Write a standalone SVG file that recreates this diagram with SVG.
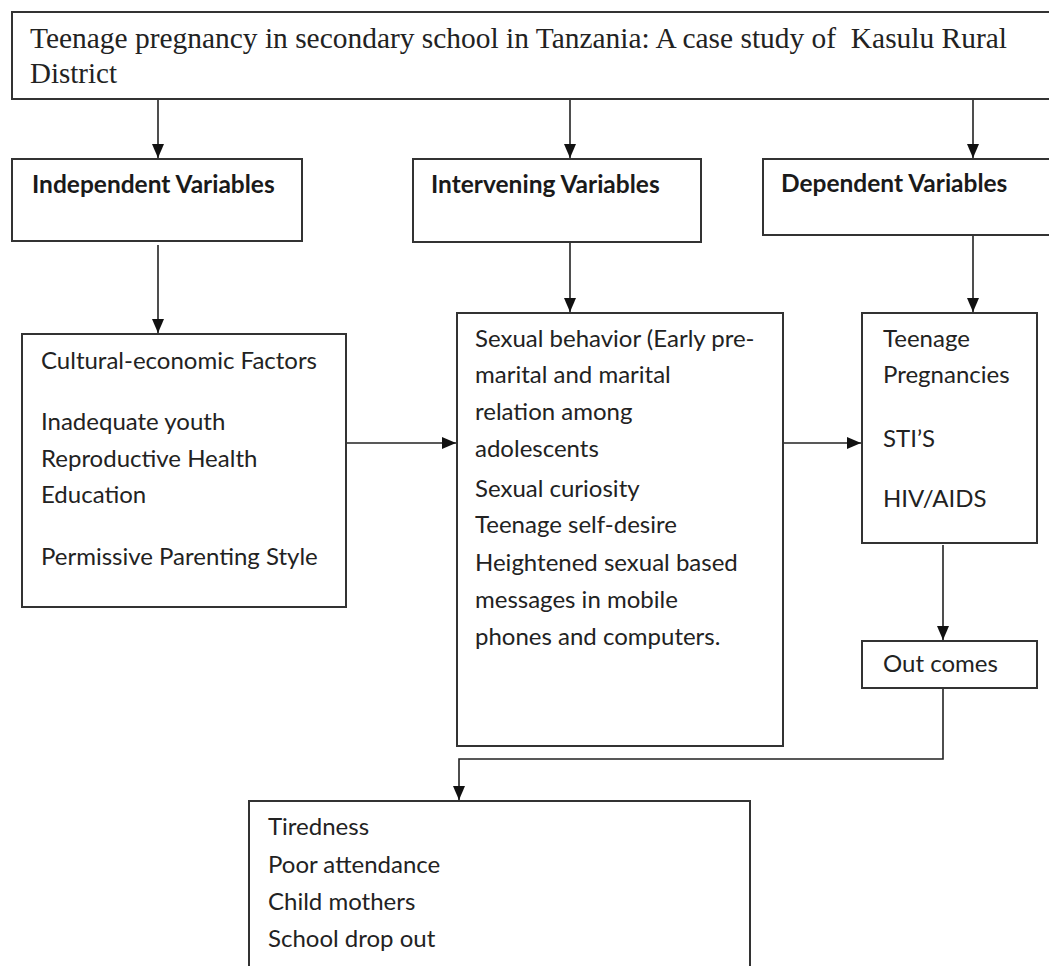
<svg xmlns="http://www.w3.org/2000/svg" width="1049" height="966" viewBox="0 0 1049 966">
<style>
.box{fill:#fff;stroke:#333;stroke-width:2}
.conn{fill:none;stroke:#222;stroke-width:1.6}
.serif{font-family:"Liberation Serif","Times New Roman",serif;font-size:29px;fill:#222;white-space:pre}
.hd{font-family:Lato,"Open Sans",sans-serif;font-weight:bold;font-size:24.5px;fill:#1a1a1a}
.tx{font-family:Lato,"Open Sans",sans-serif;font-size:24px;fill:#222}
</style>
<defs>
<marker id="ah" markerUnits="userSpaceOnUse" markerWidth="14" markerHeight="12" refX="14" refY="6" orient="auto">
<path d="M0,0 L14,6 L0,12 z" fill="#111"/>
</marker>
</defs>
<rect width="1049" height="966" fill="#fff"/>
<g id="connectors">
<path class="conn" d="M158,99 V158" marker-end="url(#ah)"/>
<path class="conn" d="M570,99 V158" marker-end="url(#ah)"/>
<path class="conn" d="M973,99 V158" marker-end="url(#ah)"/>
<path class="conn" d="M158,245 V333" marker-end="url(#ah)"/>
<path class="conn" d="M570,242 V312" marker-end="url(#ah)"/>
<path class="conn" d="M973,235 V312" marker-end="url(#ah)"/>
<path class="conn" d="M346,443 H456" stroke-width="2.6" marker-end="url(#ah)"/>
<path class="conn" d="M783,443 H861" stroke-width="2.6" marker-end="url(#ah)"/>
<path class="conn" d="M943,545 V640" marker-end="url(#ah)"/>
<path class="conn" d="M943,688 V759 H459 V800" marker-end="url(#ah)"/>
</g>
<g id="title">
<rect class="box" x="12" y="12" width="1050" height="87"/>
<text class="serif" x="30" y="48" textLength="977" lengthAdjust="spacingAndGlyphs">Teenage pregnancy in secondary school in Tanzania: A case study of  Kasulu Rural</text>
<text class="serif" x="30" y="83">District</text>
</g>
<g id="independent">
<rect class="box" x="12" y="159" width="290" height="82"/>
<text class="hd" x="32" y="193">Independent Variables</text>
</g>
<g id="intervening">
<rect class="box" x="413" y="159" width="288" height="83"/>
<text class="hd" x="431" y="193">Intervening Variables</text>
</g>
<g id="dependent">
<rect class="box" x="763" y="159" width="300" height="76"/>
<text class="hd" x="781" y="192">Dependent Variables</text>
</g>
<g id="factors">
<rect class="box" x="22" y="334" width="324" height="273"/>
<text class="tx" x="41" y="369">Cultural-economic Factors</text>
<text class="tx" x="41" y="430">Inadequate youth</text>
<text class="tx" x="41" y="467">Reproductive Health</text>
<text class="tx" x="41" y="503">Education</text>
<text class="tx" x="41" y="565">Permissive Parenting Style</text>
</g>
<g id="behavior">
<rect class="box" x="457" y="313" width="326" height="433"/>
<text class="tx" x="475" y="347">Sexual behavior (Early pre-</text>
<text class="tx" x="475" y="383">marital and marital</text>
<text class="tx" x="475" y="420">relation among</text>
<text class="tx" x="475" y="457">adolescents</text>
<text class="tx" x="475" y="497">Sexual curiosity</text>
<text class="tx" x="475" y="533">Teenage self-desire</text>
<text class="tx" x="475" y="571">Heightened sexual based</text>
<text class="tx" x="475" y="608">messages in mobile</text>
<text class="tx" x="475" y="645">phones and computers.</text>
</g>
<g id="effects">
<rect class="box" x="862" y="313" width="175" height="230"/>
<text class="tx" x="883" y="347">Teenage</text>
<text class="tx" x="883" y="383">Pregnancies</text>
<text class="tx" x="883" y="447">STI’S</text>
<text class="tx" x="883" y="507">HIV/AIDS</text>
</g>
<g id="outcomes">
<rect class="box" x="862" y="641" width="175" height="47"/>
<text class="tx" x="883" y="672">Out comes</text>
</g>
<g id="results">
<rect class="box" x="249" y="801" width="501" height="200"/>
<text class="tx" x="268" y="835">Tiredness</text>
<text class="tx" x="268" y="873">Poor attendance</text>
<text class="tx" x="268" y="910">Child mothers</text>
<text class="tx" x="268" y="947">School drop out</text>
</g>
</svg>
